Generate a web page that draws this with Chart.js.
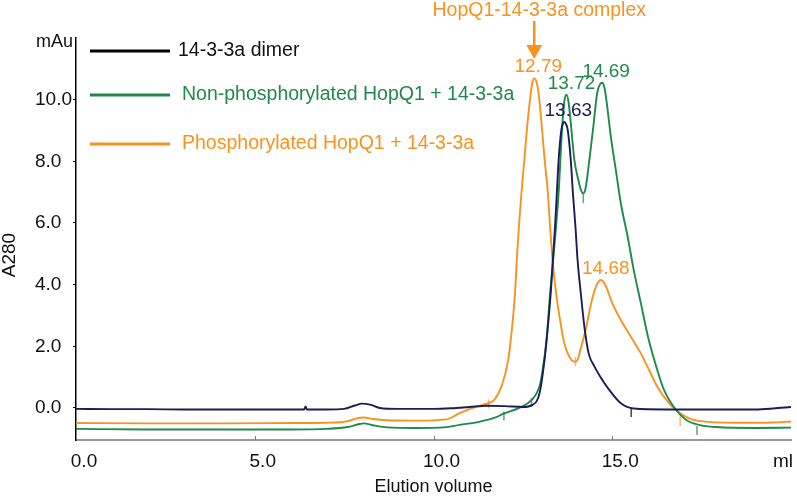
<!DOCTYPE html>
<html>
<head>
<meta charset="utf-8">
<script src="https://cdn.jsdelivr.net/npm/chart.js@4.4.1/dist/chart.umd.min.js"></script>
<style>
  html, body { margin: 0; padding: 0; background: #fff; }
  #wrap { width: 797px; height: 496px; position: relative; }
</style>
</head>
<body>
<div id="wrap"><canvas id="c" width="797" height="496"></canvas></div>
<script>
// ---------- DATA ----------
const seriesLabels = ['14-3-3a dimer', 'Non-phosphorylated HopQ1 + 14-3-3a', 'Phosphorylated HopQ1 + 14-3-3a'];

const dimerVolume = [0, 1, 2, 3, 4, 5, 6, 6.38, 6.42, 6.46, 7, 7.5, 7.8, 8.0, 8.25, 8.5, 9, 10, 10.5, 11, 11.5, 12, 12.5, 12.77, 12.96, 13.12, 13.22, 13.29, 13.35, 13.4, 13.45, 13.5, 13.58, 13.62, 13.66, 13.7, 13.75, 13.84, 13.9, 13.97, 14.03, 14.12, 14.22, 14.34, 14.5, 14.7, 14.92, 15.24, 15.6, 16.5, 17, 18, 19, 19.5, 20];
const dimerA280 = [-0.03, -0.04, -0.04, -0.05, -0.05, -0.05, -0.05, -0.05, 0.05, -0.05, -0.05, -0.03, 0.08, 0.14, 0.1, 0.0, -0.03, -0.03, -0.01, 0.03, 0.07, 0.06, 0.03, 0.1, 0.45, 1.7, 2.9, 3.9, 5.0, 5.9, 6.96, 8.04, 9.05, 9.22, 9.28, 9.22, 9.05, 8.04, 6.96, 5.89, 4.8, 3.72, 2.64, 1.77, 1.35, 0.95, 0.58, 0.15, -0.02, -0.05, -0.05, -0.05, -0.05, -0.02, 0.03];

const nonPhosVolume = [0, 2, 4, 6, 7, 7.6, 7.9, 8.05, 8.3, 8.7, 9.5, 10.3, 10.73, 11.28, 11.76, 11.93, 12.4, 12.74, 12.96, 13.04, 13.16, 13.27, 13.38, 13.5, 13.6, 13.66, 13.72, 13.78, 13.85, 13.94, 14.05, 14.13, 14.19, 14.25, 14.36, 14.47, 14.58, 14.66, 14.72, 14.78, 14.84, 14.96, 15.1, 15.24, 15.43, 15.6, 15.8, 16.0, 16.26, 16.45, 16.78, 17.07, 17.43, 17.9, 19, 20];
const nonPhosA280 = [-0.68, -0.7, -0.7, -0.7, -0.68, -0.62, -0.53, -0.5, -0.56, -0.63, -0.65, -0.63, -0.55, -0.45, -0.3, -0.2, 0.0, 0.25, 0.68, 1.13, 2.2, 3.83, 5.23, 6.98, 9.12, 9.95, 10.16, 9.9, 9.12, 8.05, 7.4, 7.05, 6.96, 7.1, 8.05, 9.12, 10.23, 10.5, 10.55, 10.4, 9.95, 8.8, 7.72, 6.64, 5.56, 4.48, 3.4, 2.31, 1.23, 0.58, -0.06, -0.39, -0.55, -0.62, -0.65, -0.64];

const phosVolume = [0, 2, 4, 6, 7, 7.6, 7.85, 8.05, 8.3, 8.7, 9.5, 10.36, 10.73, 11.2, 11.5, 11.7, 11.9, 12.09, 12.2, 12.28, 12.33, 12.39, 12.46, 12.54, 12.62, 12.72, 12.77, 12.82, 12.88, 12.94, 13.03, 13.11, 13.2, 13.26, 13.33, 13.43, 13.57, 13.66, 13.85, 13.92, 13.97, 14.03, 14.1, 14.27, 14.41, 14.55, 14.62, 14.68, 14.75, 14.84, 15.0, 15.24, 15.52, 15.8, 16.03, 16.26, 16.59, 16.78, 17.0, 17.4, 18.5, 19.5, 20];
const phosA280 = [-0.49, -0.5, -0.5, -0.49, -0.48, -0.43, -0.34, -0.31, -0.36, -0.4, -0.41, -0.37, -0.17, 0.04, 0.14, 0.26, 0.69, 1.56, 2.64, 3.72, 4.8, 5.89, 6.96, 8.04, 9.12, 10.2, 10.58, 10.69, 10.58, 10.2, 9.12, 8.04, 6.96, 5.89, 4.8, 3.72, 2.64, 2.1, 1.56, 1.51, 1.5, 1.56, 1.85, 2.6, 3.4, 3.95, 4.1, 4.15, 4.1, 3.9, 3.4, 2.85, 2.31, 1.77, 1.23, 0.69, 0.15, -0.06, -0.25, -0.42, -0.48, -0.47, -0.44];

// fraction / integration markers
const dimerMarkVolume = [15.53];
const dimerMarkA280 = [-0.15];
const nonPhosMarkVolume = [11.97, 12.74, 14.19, 17.37];
const nonPhosMarkA280 = [-0.26, 0.18, 6.79, -0.73];
const phosMarkVolume = [11.54, 13.97, 16.9];
const phosMarkA280 = [0.13, 1.5, -0.44];

// peak labels
const peakTexts = ['12.79', '13.72', '14.69', '13.63', '14.68'];
const peakVolumes = [12.79, 13.72, 14.69, 13.63, 14.68];
const peakHeights = [10.7, 10.16, 10.55, 9.28, 4.15];
const peakSeries = [2, 1, 1, 0, 2];

const complexLabel = 'HopQ1-14-3-3a complex';
const complexVolume = 12.79;
const complexHeight = 10.7;

const xTickValues = [0, 5, 10, 15];
const yTickValues = [0, 2, 4, 6, 8, 10];
const xTitle = 'Elution volume';
const yTitle = 'A280';
const yUnit = 'mAu';
const xUnit = 'ml';

// ---------- STYLE ----------
const FONT = '"Liberation Sans", Arial, Helvetica, sans-serif';
const lineColors = ['#1c1d55', '#1f8a4c', '#f7931e'];
const legendLineColors = ['#000000', '#1f8a4c', '#f7931e'];
const textColors = ['#111111', '#1f8a4c', '#f7931e'];
const peakColors = ['#1c1d55', '#1f8a4c', '#f7931e'];
const markColors = ['#3a3b72', '#5aa77a', '#f7b36a'];

const zip = (xs, ys) => xs.map((x, i) => ({ x: x, y: ys[i] }));

const lineDs = (label, xs, ys, color) => ({
  label: label, data: zip(xs, ys), borderColor: color, backgroundColor: color,
  borderWidth: 1.9, pointRadius: 0, fill: false, cubicInterpolationMode: 'monotone'
});
const markDs = (xs, ys, color) => ({
  type: 'scatter', label: '', data: zip(xs, ys), borderColor: color, backgroundColor: color,
  pointStyle: 'line', rotation: 90, pointRadius: 4.5, borderWidth: 1.5, showLine: false
});

const overlay = {
  id: 'overlay',
  afterDraw(chart) {
    const ctx = chart.ctx;
    const xs = chart.scales.x, ys = chart.scales.y;
    const area = chart.chartArea;
    ctx.save();
    ctx.textBaseline = 'middle';

    // x-axis inner tick marks
    ctx.strokeStyle = '#777';
    ctx.lineWidth = 1;
    xTickValues.forEach(v => {
      if (v === 0) return;
      const px = Math.round(xs.getPixelForValue(v)) + 0.5;
      ctx.beginPath(); ctx.moveTo(px, area.bottom); ctx.lineTo(px, area.bottom - 4); ctx.stroke();
    });

    // unit labels
    ctx.fillStyle = '#111';
    ctx.font = '18px ' + FONT;
    ctx.textAlign = 'left';
    ctx.fillText(yUnit, 36, 42);
    ctx.font = '19px ' + FONT;
    ctx.fillText(xUnit, 773, 462);

    // y title rotated
    ctx.save();
    ctx.translate(10, 255);
    ctx.rotate(-Math.PI / 2);
    ctx.textAlign = 'center';
    ctx.font = '19px ' + FONT;
    ctx.fillText(yTitle, 0, 0);
    ctx.restore();

    // legend
    const legendY = [51, 95, 144];
    const legendTextX = [178, 182, 182];
    seriesLabels.forEach((lab, i) => {
      ctx.strokeStyle = legendLineColors[i];
      ctx.lineWidth = 3;
      ctx.beginPath(); ctx.moveTo(90, legendY[i]); ctx.lineTo(170, legendY[i]); ctx.stroke();
      ctx.fillStyle = textColors[i];
      ctx.font = '19.5px ' + FONT;
      ctx.textAlign = 'left';
      ctx.fillText(lab, legendTextX[i], legendY[i]);
    });

    // peak labels
    ctx.textAlign = 'center';
    ctx.font = '19px ' + FONT;
    peakTexts.forEach((t, i) => {
      const px = xs.getPixelForValue(peakVolumes[i]) + 5;
      const py = ys.getPixelForValue(peakHeights[i]) - 11;
      ctx.fillStyle = peakColors[peakSeries[i]];
      ctx.fillText(t, px, py);
    });

    // complex annotation with arrow
    const ax = xs.getPixelForValue(complexVolume) + 1;
    const tipY = ys.getPixelForValue(complexHeight) - 19;
    ctx.fillStyle = '#f7931e';
    ctx.strokeStyle = '#f7931e';
    ctx.font = '19.5px ' + FONT;
    ctx.fillText(complexLabel, ax + 5, 11);
    ctx.lineWidth = 2.5;
    ctx.beginPath(); ctx.moveTo(ax, 21); ctx.lineTo(ax, tipY - 12); ctx.stroke();
    ctx.beginPath();
    ctx.moveTo(ax - 8, tipY - 14); ctx.lineTo(ax + 8, tipY - 14); ctx.lineTo(ax, tipY);
    ctx.closePath(); ctx.fill();
    ctx.restore();
  }
};

new Chart(document.getElementById('c'), {
  type: 'line',
  data: {
    datasets: [
      lineDs(seriesLabels[0], dimerVolume, dimerA280, lineColors[0]),
      lineDs(seriesLabels[1], nonPhosVolume, nonPhosA280, lineColors[1]),
      lineDs(seriesLabels[2], phosVolume, phosA280, lineColors[2]),
      markDs(dimerMarkVolume, dimerMarkA280, markColors[0]),
      markDs(nonPhosMarkVolume, nonPhosMarkA280, markColors[1]),
      markDs(phosMarkVolume, phosMarkA280, markColors[2])
    ]
  },
  options: {
    responsive: false,
    animation: false,
    devicePixelRatio: 1,
    layout: { padding: { left: 35, right: 5, top: 38, bottom: 0 } },
    plugins: { legend: { display: false }, tooltip: { enabled: false }, title: { display: false } },
    scales: {
      x: {
        type: 'linear', min: 0, max: 20,
        afterBuildTicks: s => { s.ticks = xTickValues.map(v => ({ value: v })); },
        afterFit: s => { s.height = 56; },
        ticks: {
          callback: v => Number(v).toFixed(1), font: { size: 19, family: FONT }, color: '#111',
          labelOffset: 8, padding: 10, maxRotation: 0, autoSkip: false
        },
        grid: { display: false, drawTicks: false },
        border: { display: true, dash: [8, 7], color: '#9a9a9a', width: 2 },
        title: { display: true, text: xTitle, font: { size: 18, family: FONT, lineHeight: 1.0 }, color: '#111', padding: { top: 0, bottom: 0 } }
      },
      y: {
        type: 'linear', min: -1.04, max: 12,
        afterBuildTicks: s => { s.ticks = yTickValues.map(v => ({ value: v })); },
        afterFit: s => { s.width = 41; },
        ticks: {
          callback: v => Number(v).toFixed(1), font: { size: 19, family: FONT }, color: '#111',
          crossAlign: 'far', padding: 2
        },
        grid: { display: true, drawOnChartArea: false, drawTicks: true, tickLength: 3, color: '#000', lineWidth: 1 },
        border: { display: true, color: '#000', width: 1.5 }
      }
    }
  },
  plugins: [overlay]
});
</script>
</body>
</html>
